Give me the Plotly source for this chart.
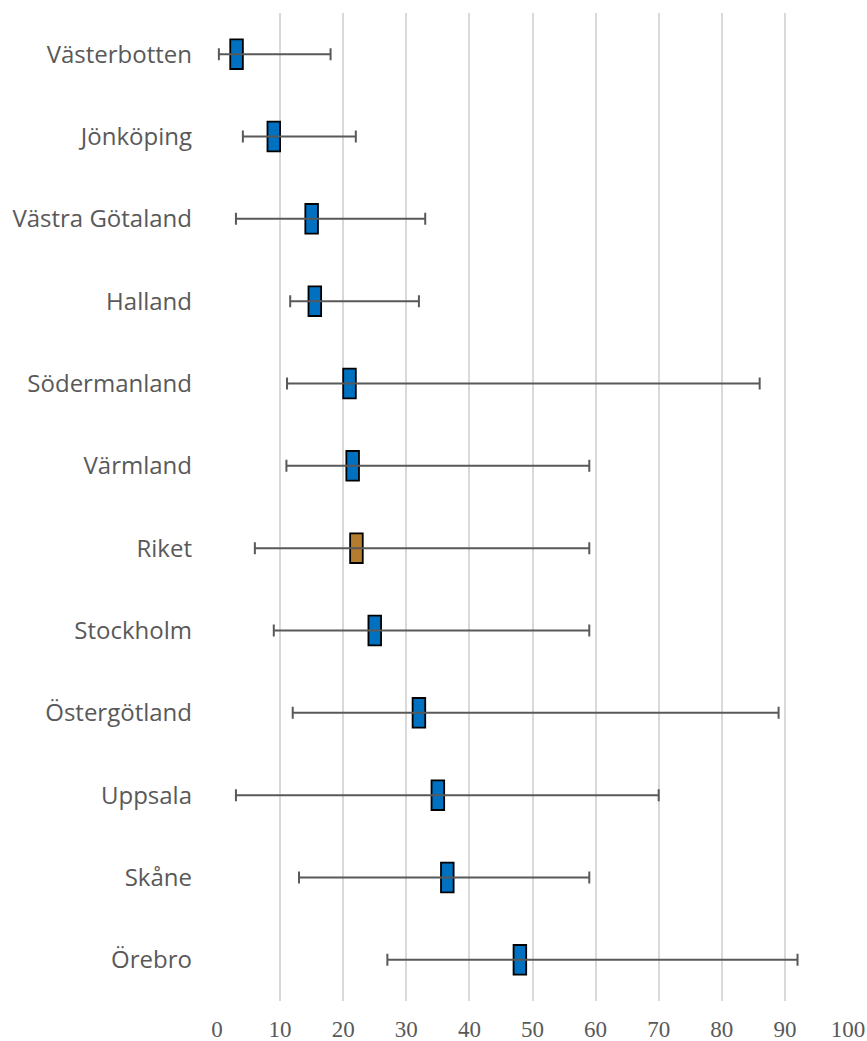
import plotly.graph_objects as go

# Regions, top to bottom
regions = ["Västerbotten", "Jönköping", "Västra Götaland", "Halland", "Södermanland",
           "Värmland", "Riket", "Stockholm", "Östergötland", "Uppsala", "Skåne", "Örebro"]
# Central value and range (min, max) for each region
center = [3.1, 9.0, 15.0, 15.5, 21.0, 21.5, 22.1, 25.0, 32.0, 35.0, 36.5, 48.0]
low = [0.3, 4.1, 3.0, 11.6, 11.1, 11.0, 6.0, 9.0, 12.0, 3.0, 13.0, 27.0]
high = [18.0, 22.0, 33.0, 32.0, 86.0, 59.0, 59.0, 59.0, 89.0, 70.0, 59.0, 92.0]
x_ticks = [0, 10, 20, 30, 40, 50, 60, 70, 80, 90, 100]

BLUE = "#0070C0"
BROWN = "#B47C2E"
GRAY = "#595959"

box_w = 2.0  # box width in axis units
colors = [BROWN if r == "Riket" else BLUE for r in regions]

fig = go.Figure()

fig.add_trace(go.Bar(
    y=regions,
    x=[box_w] * len(regions),
    base=[c - box_w / 2 for c in center],
    orientation="h",
    width=0.36,
    marker=dict(color=colors, line=dict(color="#000000", width=1.8)),
    hoverinfo="skip",
    showlegend=False,
))

fig.add_trace(go.Scatter(
    y=regions,
    x=center,
    mode="markers",
    marker=dict(size=1, color="rgba(0,0,0,0)"),
    error_x=dict(
        type="data",
        symmetric=False,
        array=[h - c for h, c in zip(high, center)],
        arrayminus=[c - l for c, l in zip(center, low)],
        color=GRAY,
        thickness=2,
        width=6,
    ),
    showlegend=False,
))

fig.update_layout(
    width=867,
    height=1041,
    margin=dict(l=217, r=19, t=13, b=40, autoexpand=False),
    paper_bgcolor="white",
    plot_bgcolor="white",
    barmode="overlay",
    xaxis=dict(
        range=[0, 100],
        tickvals=x_ticks,
        ticktext=[str(t) for t in x_ticks],
        showgrid=True,
        gridcolor="#d9d9d9",
        gridwidth=2,
        zeroline=False,
        showline=False,
        ticks="",
        automargin=False,
        tickfont=dict(family="Liberation Serif", size=23, color=GRAY),
        ticklabelstandoff=12,
    ),
    yaxis=dict(
        categoryorder="array",
        categoryarray=regions,
        range=[len(regions) - 0.5, -0.5],
        showgrid=False,
        zeroline=False,
        showline=False,
        ticks="",
        automargin=False,
        tickfont=dict(family="Open Sans", size=24, color=GRAY),
        ticklabelstandoff=24,
    ),
)

fig.write_html("out.html")
